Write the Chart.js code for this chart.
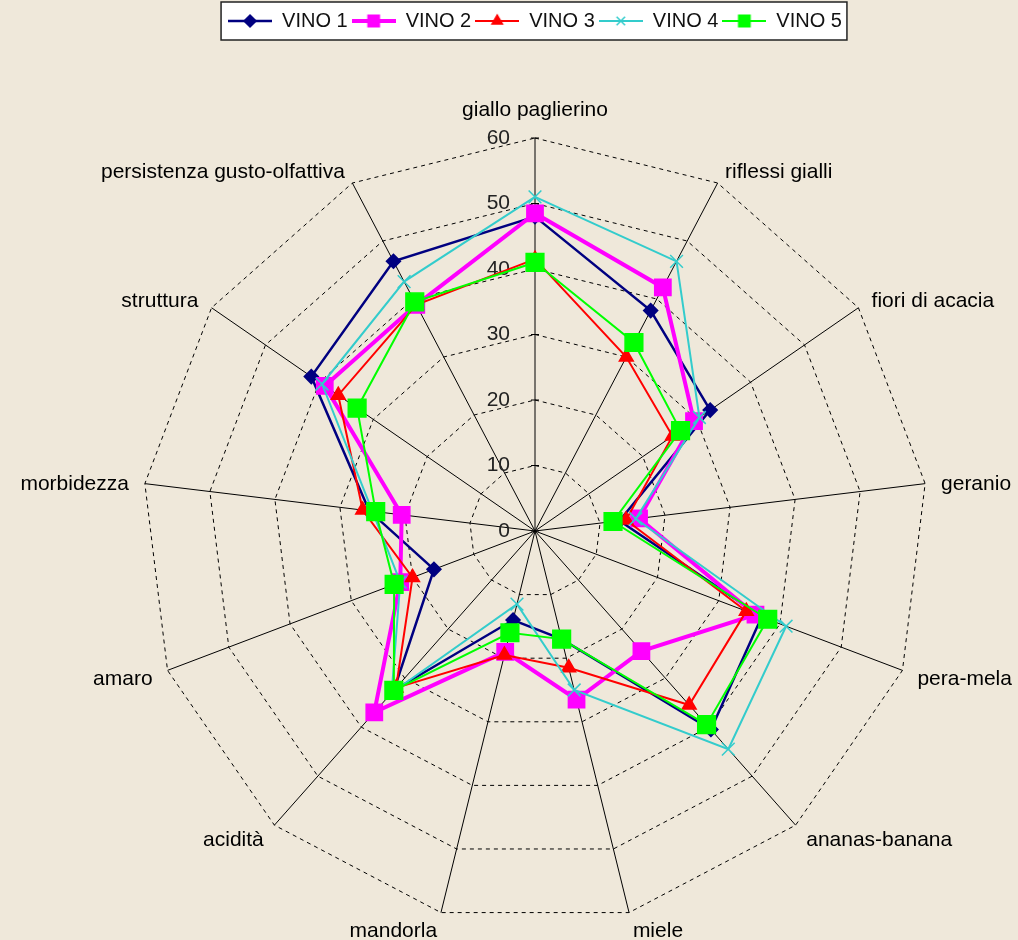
<!DOCTYPE html>
<html>
<head>
<meta charset="utf-8">
<script src="https://cdn.jsdelivr.net/npm/chart.js@4.4.0/dist/chart.umd.min.js"></script>
<style>
  html, body { margin: 0; padding: 0; background: #efe8da; overflow: hidden; }
  #wrap { width: 1018px; height: 940px; overflow: hidden; }
  canvas { display: block; }
</style>
</head>
<body>
<div id="wrap"><canvas id="radar" width="1018" height="1022"></canvas></div>
<script>
// sensory attributes, clockwise from the top
const attributes = [
  'giallo paglierino', 'riflessi gialli', 'fiori di acacia', 'geranio',
  'pera-mela', 'ananas-banana', 'miele', 'mandorla', 'acidità', 'amaro',
  'morbidezza', 'struttura', 'persistenza gusto-olfattiva'
];

const vino1 = [48, 38, 32.5, 13, 37, 40.5, 17, 14, 32.5, 16.5, 25.5, 41.5, 46.5];
const vino2 = [48.5, 42, 29.5, 16, 36, 24.5, 26.5, 19, 37, 22, 20.5, 39, 39];
const vino3 = [41.5, 30, 25.5, 14, 34.5, 35.5, 21.5, 19.5, 32, 20, 26.5, 36.5, 39];
const vino4 = [51, 46.5, 30.5, 15.5, 41, 44.5, 25, 11.5, 33, 22, 25, 39.5, 43];
const vino5 = [41, 32.5, 27, 12, 38, 39.5, 17, 16, 32.5, 23, 24.5, 33, 39.5];

const tickValues = [0, 10, 20, 30, 40, 50, 60];

const FONT = "'Liberation Sans', Arial, sans-serif";
const TEXT_COLOR = '#111';

const series = [
  { label: 'VINO 1', data: vino1, color: '#000080', width: 2.5, style: 'rectRot',  radius: 7 },
  { label: 'VINO 2', data: vino2, color: '#ff00ff', width: 4,   style: 'rect',     radius: 11.5 },
  { label: 'VINO 3', data: vino3, color: '#ff0000', width: 2,   style: 'triangle', radius: 8 },
  { label: 'VINO 4', data: vino4, color: '#33cccc', width: 2,   style: 'crossRot', radius: 9 },
  { label: 'VINO 5', data: vino5, color: '#00ff00', width: 2,   style: 'rect',     radius: 12.5 }
];

// legend icon: short line with the series marker in the middle
function legendSample(s) {
  const c = document.createElement('canvas');
  c.width = 44;
  c.height = 18;
  const ctx = c.getContext('2d');
  ctx.strokeStyle = s.color;
  ctx.lineWidth = s.width;
  ctx.beginPath();
  ctx.moveTo(0, 9);
  ctx.lineTo(44, 9);
  ctx.stroke();
  ctx.fillStyle = s.color;
  ctx.lineWidth = 1.5;
  Chart.helpers.drawPoint(ctx, {
    pointStyle: s.style,
    radius: s.style === 'rect' ? 8 : 6,
    rotation: 0,
    borderWidth: 1.5
  }, 22, 9);
  return c;
}

// white framed box behind the legend row
const legendFrame = {
  id: 'legendFrame',
  beforeDraw(chart) {
    const boxes = chart.legend && chart.legend.legendHitBoxes;
    if (!boxes || !boxes.length) return;
    const first = boxes[0];
    const last = boxes[boxes.length - 1];
    const x0 = first.left - 7;
    const x1 = last.left + last.width + 5;
    const y0 = 2;
    const y1 = 40;
    const ctx = chart.ctx;
    ctx.save();
    ctx.fillStyle = '#ffffff';
    ctx.fillRect(x0, y0, x1 - x0, y1 - y0);
    ctx.strokeStyle = '#222';
    ctx.lineWidth = 1.5;
    ctx.strokeRect(x0, y0, x1 - x0, y1 - y0);
    ctx.restore();
  }
};

// value labels left of the vertical axis, with small tick marks
const axisTicks = {
  id: 'axisTicks',
  beforeDatasetsDraw(chart) {
    const scale = chart.scales.r;
    const ctx = chart.ctx;
    ctx.save();
    ctx.font = '21px ' + FONT;
    ctx.fillStyle = '#222';
    ctx.textAlign = 'right';
    ctx.textBaseline = 'middle';
    ctx.strokeStyle = '#000';
    ctx.lineWidth = 1;
    tickValues.forEach(v => {
      const p = scale.getPointPositionForValue(0, v);
      ctx.fillText(String(v), p.x - 25, p.y);
      ctx.beginPath();
      ctx.moveTo(p.x - 4, p.y);
      ctx.lineTo(p.x + 4, p.y);
      ctx.stroke();
    });
    ctx.restore();
  }
};

// attribute names just outside the outer ring
const attributeLabels = {
  id: 'attributeLabels',
  afterDraw(chart) {
    const scale = chart.scales.r;
    const ctx = chart.ctx;
    ctx.save();
    ctx.font = '21px ' + FONT;
    ctx.fillStyle = '#000';
    ctx.textBaseline = 'middle';
    attributes.forEach((text, i) => {
      const deg = Math.round(scale.getIndexAngle(i) * 180 / Math.PI) % 360;
      const top = deg === 0;
      const p = scale.getPointPosition(i, scale.drawingArea + (top ? 28 : 16));
      ctx.textAlign = top ? 'center' : (deg < 180 ? 'left' : 'right');
      ctx.fillText(text, p.x, p.y + (top ? 0 : 3));
    });
    ctx.restore();
  }
};

new Chart(document.getElementById('radar'), {
  type: 'radar',
  data: {
    labels: attributes,
    datasets: series.map((s, i) => ({
      label: s.label,
      data: s.data,
      borderColor: s.color,
      backgroundColor: s.color,
      borderWidth: s.width,
      fill: false,
      tension: 0,
      pointStyle: s.style,
      pointRadius: s.radius,
      pointHoverRadius: s.radius,
      pointBackgroundColor: s.color,
      pointBorderColor: s.color,
      pointBorderWidth: 1.5,
      order: series.length - i
    }))
  },
  options: {
    responsive: false,
    animation: false,
    layout: { padding: { top: 0, left: 142, right: 90, bottom: 0 } },
    plugins: {
      tooltip: { enabled: false },
      legend: {
        position: 'top',
        // empty title only adds a little room above the items
        title: {
          display: true,
          text: '',
          color: TEXT_COLOR,
          font: { size: 5 },
          padding: { top: 1, bottom: 0 }
        },
        labels: {
          usePointStyle: true,
          pointStyleWidth: 44,
          padding: 4,
          color: TEXT_COLOR,
          font: { family: FONT, size: 20 },
          sort: (a, b) => a.datasetIndex - b.datasetIndex,
          generateLabels(chart) {
            return chart.data.datasets.map((ds, i) => ({
              text: ds.label,
              datasetIndex: i,
              pointStyle: legendSample(series[i]),
              fillStyle: ds.borderColor,
              strokeStyle: ds.borderColor,
              fontColor: TEXT_COLOR,
              lineWidth: 0,
              hidden: false
            }));
          }
        }
      }
    },
    scales: {
      r: {
        min: 0,
        max: 60,
        ticks: { stepSize: 10, display: false },
        grid: { color: '#000', lineWidth: 1 },
        border: { dash: [4, 4] },
        angleLines: { color: '#000', lineWidth: 1 },
        pointLabels: { display: false }
      }
    }
  },
  plugins: [legendFrame, axisTicks, attributeLabels]
});
</script>
</body>
</html>
